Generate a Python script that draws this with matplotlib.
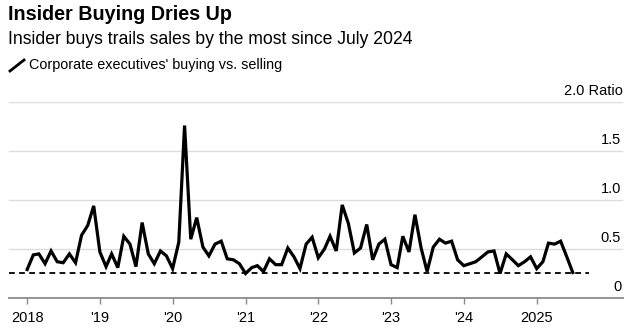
import pandas as pd
import matplotlib.pyplot as plt
from matplotlib.lines import Line2D

# Monthly ratio of insider buying to selling, Jan 2018 - Jul 2025
ratio_2018 = [0.29, 0.44, 0.45, 0.35, 0.48, 0.37, 0.36, 0.45, 0.36, 0.64, 0.74, 0.94]
ratio_2019 = [0.47, 0.32, 0.45, 0.31, 0.63, 0.55, 0.32, 0.77, 0.45, 0.35, 0.48, 0.43]
ratio_2020 = [0.30, 0.57, 1.76, 0.60, 0.82, 0.52, 0.43, 0.55, 0.58, 0.40, 0.39, 0.35]
ratio_2021 = [0.25, 0.31, 0.33, 0.27, 0.40, 0.34, 0.34, 0.51, 0.42, 0.30, 0.55, 0.62]
ratio_2022 = [0.41, 0.50, 0.63, 0.48, 0.95, 0.76, 0.46, 0.51, 0.75, 0.39, 0.55, 0.60]
ratio_2023 = [0.34, 0.31, 0.63, 0.47, 0.85, 0.51, 0.27, 0.52, 0.60, 0.56, 0.58, 0.39]
ratio_2024 = [0.33, 0.35, 0.37, 0.42, 0.47, 0.48, 0.25, 0.45, 0.39, 0.33, 0.37, 0.42]
ratio_2025 = [0.30, 0.37, 0.56, 0.55, 0.58, 0.42, 0.26]

ratio = ratio_2018 + ratio_2019 + ratio_2020 + ratio_2021 + ratio_2022 + ratio_2023 + ratio_2024 + ratio_2025
dates = pd.date_range("2018-01-01", periods=len(ratio), freq="MS")

year_ticks = pd.to_datetime(["2018-01-01", "2019-01-01", "2020-01-01", "2021-01-01",
                             "2022-01-01", "2023-01-01", "2024-01-01", "2025-01-01"])
year_labels = ["2018", "'19", "'20", "'21", "'22", "'23", "'24", "2025"]
y_ticks = [0, 0.5, 1.0, 1.5]
y_labels = ["0", "0.5", "1.0", "1.5"]

plt.rcParams["font.family"] = ["Liberation Sans", "DejaVu Sans"]

fig = plt.figure(figsize=(6.36, 3.34), dpi=100)
ax = fig.add_axes([9 / 636, 1 - 298 / 334, 614 / 636, 196 / 334])

# gridlines
for v in [0.5, 1.0, 1.5, 2.0]:
    ax.axhline(v, color="#dcdcdc", lw=1, zorder=0)

# latest value reference line
last = ratio[-1]
ax.plot([pd.Timestamp("2017-10-01"), pd.Timestamp("2025-09-20")], [last, last],
        color="black", lw=1.3, linestyle=(0, (3.2, 2.4)), zorder=2)

ax.plot(dates, ratio, color="black", lw=2.3, solid_joinstyle="miter", zorder=3)

ax.set_xlim(pd.Timestamp("2017-10-02"), pd.Timestamp("2026-03-10"))
ax.set_ylim(0, 2.0)

for s in ["top", "right", "left"]:
    ax.spines[s].set_visible(False)
ax.spines["bottom"].set_color("#8a8a8a")
ax.spines["bottom"].set_linewidth(1.3)

ax.set_yticks([])
ax.set_xticks(year_ticks)
ax.set_xticklabels(year_labels, fontsize=10.5)
ax.tick_params(axis="x", length=4, width=1, color="#8a8a8a", pad=5)

for v, lab in zip(y_ticks, y_labels):
    ax.text(0.997, v + 0.045, lab, transform=ax.get_yaxis_transform(),
            ha="right", va="bottom", fontsize=10.5)
ax.text(0.999, 2.0 + 0.045, "2.0 Ratio", transform=ax.get_yaxis_transform(),
        ha="right", va="bottom", fontsize=10.5)

# header
fig.text(8 / 636, 1 - 14 / 334, "Insider Buying Dries Up", fontsize=14.2,
         fontweight="bold", va="center", ha="left")
fig.text(8 / 636, 1 - 40 / 334, "Insider buys trails sales by the most since July 2024",
         fontsize=12.7, va="center", ha="left")
fig.add_artist(Line2D([10 / 636, 24 / 636], [1 - 71 / 334, 1 - 60 / 334],
                      color="black", lw=2.0, transform=fig.transFigure))
fig.text(29 / 636, 1 - 65 / 334, "Corporate executives' buying vs. selling",
         fontsize=10.4, va="center", ha="left")

fig.savefig("out.png", dpi=100)
